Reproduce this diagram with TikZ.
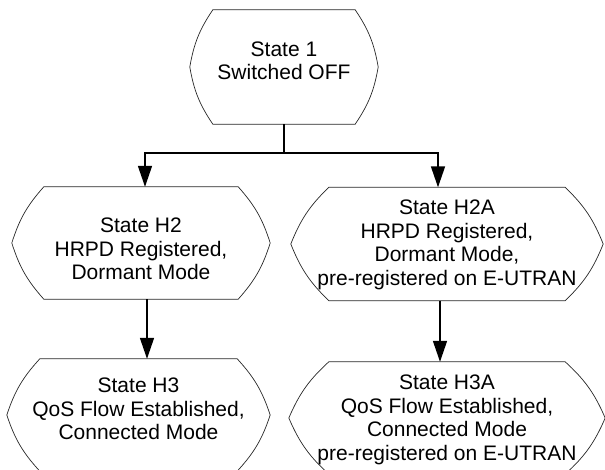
\documentclass[tikz,border=0pt]{standalone}
\usepackage{fontspec}
\setmainfont{Liberation Sans}
\usetikzlibrary{arrows.meta}
\tikzset{
  statebox/.style={draw=none, inner sep=0pt},
  statetext/.style={inner sep=0pt, align=center,
    font=\fontsize{21}{23.5}\selectfont},
  outline/.style={draw=black!85, line width=0.7pt, line join=miter},
  conn/.style={draw=black, line width=1.6pt},
  tip/.style={-{Triangle[length=21pt,width=14pt]}}
}
% curved hexagon round a state node: #1 name, #2 corner inset
\newcommand\stateshape[2]{%
  \draw[outline] ([xshift=#2]#1.north west) -- ([xshift=-#2]#1.north east)
    to[bend left=12] (#1.east) to[bend left=12] ([xshift=-#2]#1.south east)
    -- ([xshift=#2]#1.south west) to[bend left=12] (#1.west)
    to[bend left=12] ([xshift=#2]#1.north west) -- cycle;}
\begin{document}
\begin{tikzpicture}[x=1pt,y=-1pt]
    \clip (0,0) rectangle (605,470);
    \node[statebox, minimum width=188pt, minimum height=114pt] (s1) at (284,67) {};
    \node[statebox, minimum width=258pt, minimum height=112pt] (h2) at (141,243) {};
    \node[statebox, minimum width=312pt, minimum height=113pt] (h2a) at (447,244) {};
    \node[statebox, minimum width=263pt, minimum height=112pt] (h3) at (138.5,415) {};
    \node[statebox, minimum width=316pt, minimum height=112pt] (h3a) at (447,418) {};
    \stateshape{s1}{23pt}
    \stateshape{h2}{32pt}
    \stateshape{h2a}{38pt}
    \stateshape{h3}{33pt}
    \stateshape{h3a}{40pt}
    % texts
    \node[statetext] (s1t) at ([yshift=6pt]s1.center) {State 1\\Switched OFF};
    \node[statetext] (h2t) at ([yshift=-6pt]h2.center) {State H2\\HRPD Registered,\\Dormant Mode};
    \node[statetext] (h2at) at ([yshift=-1pt]h2a.center) {State H2A\\HRPD Registered,\\Dormant Mode,\\pre-registered on E-UTRAN};
    \node[statetext] (h3t) at ([yshift=6pt]h3.center) {State H3\\QoS Flow Established,\\Connected Mode};
    \node[statetext] (h3at) at ([yshift=-2pt]h3a.center) {State H3A\\QoS Flow Established,\\Connected Mode\\pre-registered on E-UTRAN};
    % connectors
    \coordinate (split) at (284,153);
    \draw[conn] (s1.south) -- (split);
    \draw[conn,tip] (split) -| ([xshift=4pt]h2.north);
    \draw[conn,tip] (split) -| ([xshift=-9pt]h2a.north);
    \draw[conn,tip] ([xshift=6pt]h2.south) -- ([xshift=6pt]h2.south |- h3.north);
    \draw[conn,tip] ([xshift=-7pt]h2a.south) -- ([xshift=-7pt]h2a.south |- h3a.north);
\end{tikzpicture}
\end{document}
